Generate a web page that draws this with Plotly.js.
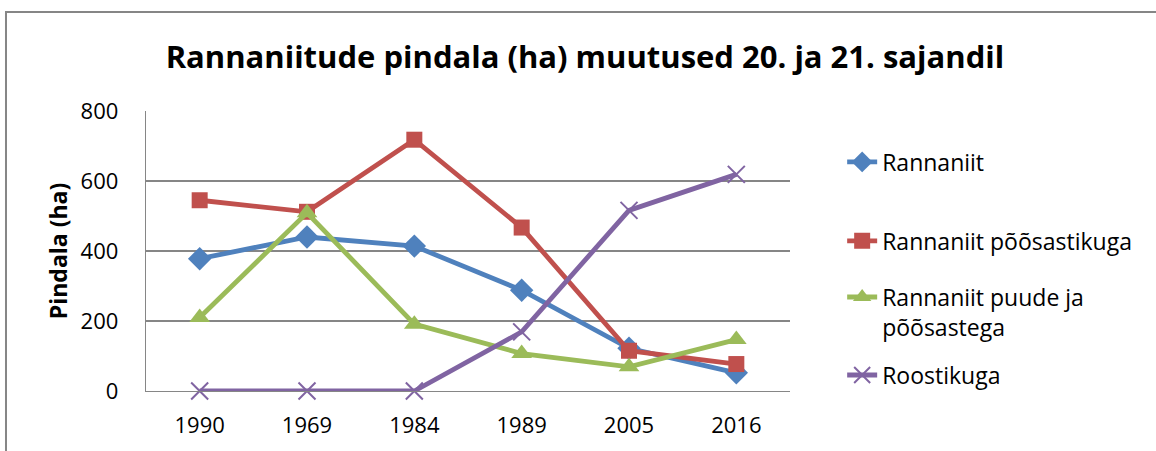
<!DOCTYPE html>
<html><head><meta charset="utf-8">
<script src="https://cdn.plot.ly/plotly-3.0.1.min.js"></script>
<style>body{margin:0;background:#fff}#c{width:1156px;height:451px}</style>
</head><body><div id="c"></div>
<script>
const years = ["1990","1969","1984","1989","2005","2016"];
const rannaniit = [378, 440, 414, 288, 122, 52];
const poosastikuga = [545, 512, 718, 467, 115, 77];
const puudeJaPoosastega = [210, 509, 191, 107, 69, 147];
const roostikuga = [0, 0, 0, 169, 516, 619];
const seriesNames = ["Rannaniit", "Rannaniit põõsastikuga", "Rannaniit puude ja<br>põõsastega", "Roostikuga"];
const colors = ["#4F81BD", "#C0504D", "#9BBB59", "#8064A2"];

const FONT = "'Open Sans', Lato, sans-serif";
const common = {type: "scatter", mode: "lines+markers", cliponaxis: false};
const data = [
  Object.assign({x: years, y: rannaniit, name: seriesNames[0], legend: "legend",
   line: {color: colors[0], width: 4.8}, marker: {symbol: "diamond", size: 18, color: colors[0]}}, common),
  Object.assign({x: years, y: poosastikuga, name: seriesNames[1], legend: "legend2",
   line: {color: colors[1], width: 4.8}, marker: {symbol: "square", size: 16, color: colors[1]}}, common),
  Object.assign({x: years, y: puudeJaPoosastega, name: seriesNames[2], legend: "legend3",
   line: {color: colors[2], width: 4.8}, marker: {symbol: "triangle-up", size: 18, color: colors[2]}}, common),
  Object.assign({x: years, y: roostikuga, name: seriesNames[3], legend: "legend4",
   line: {color: colors[3], width: 4.8}, marker: {symbol: "x-thin-open", size: 17, color: colors[3], line: {color: colors[3], width: 2}}}, common)
];

function leg(y) {
  return {x: 1.081, y: y, xanchor: "left", yanchor: "middle", valign: "top",
          font: {family: FONT, size: 23, color: "#000"}, bgcolor: "rgba(0,0,0,0)"};
}

const layout = {
  width: 1156, height: 451,
  margin: {l: 146, r: 366, t: 111, b: 60},
  paper_bgcolor: "#fff", plot_bgcolor: "#fff",
  font: {family: FONT, size: 22, color: "#000"},
  title: {text: "<b>Rannaniitude pindala (ha) muutused 20. ja 21. sajandil</b>", font: {family: FONT, size: 31, color: "#000"},
          xref: "container", yref: "container", x: 0.506, y: 0.874, xanchor: "center", yanchor: "middle"},
  xaxis: {type: "category", range: [-0.5, 5.5], showgrid: false, showline: true, linecolor: "#868686", linewidth: 1.3,
          zeroline: false, ticks: "", ticklabelstandoff: 14, tickfont: {family: FONT, size: 22}},
  yaxis: {range: [0, 800], dtick: 200, showgrid: true, gridcolor: "#868686", gridwidth: 1.3, showline: true,
          linecolor: "#868686", linewidth: 1.3, zeroline: false, ticks: "", ticklabelstandoff: 22,
          tickfont: {family: FONT, size: 22},
          title: {text: "<b>Pindala (ha)</b>", font: {family: FONT, size: 23}, standoff: 6}},
  showlegend: true,
  legend: leg(0.818),
  legend2: leg(0.536),
  legend3: leg(0.282),
  legend4: leg(0.057),
  shapes: [{type: "rect", xref: "paper", yref: "paper", x0: -0.2174, x1: 1.6, y0: -0.3, y1: 1.3536,
            line: {color: "#868686", width: 2}, layer: "below"}]
};
Plotly.newPlot("c", data, layout, {displayModeBar: false, staticPlot: true});
</script></body></html>
